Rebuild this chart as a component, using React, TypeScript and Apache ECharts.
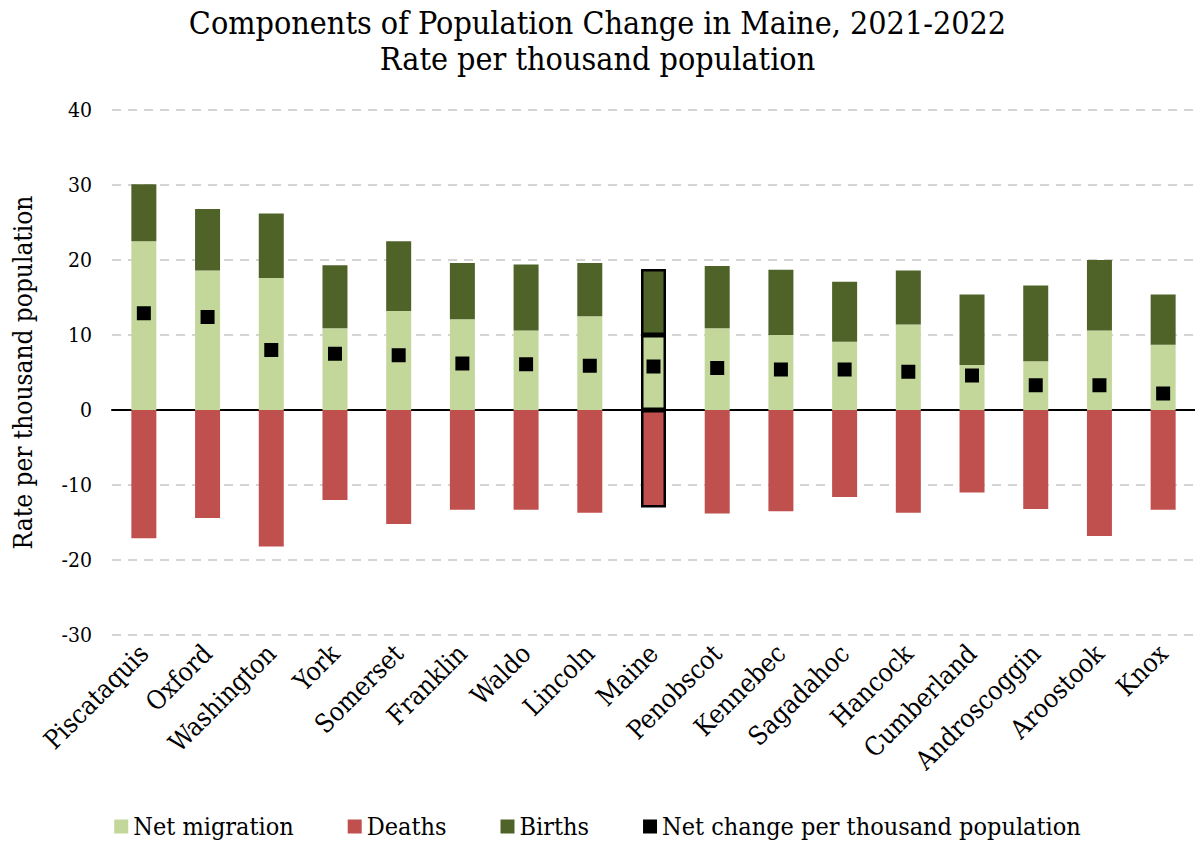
import React, { useEffect, useRef } from "react";
import * as echarts from "echarts";

const categories = [
  "Piscataquis", "Oxford", "Washington", "York", "Somerset", "Franklin", "Waldo", "Lincoln",
  "Maine", "Penobscot", "Kennebec", "Sagadahoc", "Hancock", "Cumberland", "Androscoggin", "Aroostook", "Knox",
];
const netMigration = [22.5, 18.6, 17.6, 10.9, 13.2, 12.1, 10.6, 12.5, 10.0, 10.9, 10.0, 9.1, 11.4, 6.0, 6.5, 10.6, 8.7];
const births = [7.6, 8.2, 8.6, 8.4, 9.3, 7.5, 8.8, 7.1, 8.8, 8.3, 8.7, 8.0, 7.2, 9.4, 10.1, 9.4, 6.7];
const deaths = [-17.1, -14.4, -18.2, -12.0, -15.2, -13.3, -13.3, -13.7, -13.0, -13.8, -13.5, -11.6, -13.7, -11.0, -13.2, -16.8, -13.3];
const netChange = [12.9, 12.4, 8.0, 7.5, 7.3, 6.2, 6.1, 5.9, 5.8, 5.6, 5.4, 5.4, 5.1, 4.6, 3.3, 3.3, 2.2];
const highlight = "Maine";

const FONT = "'DejaVu Serif Condensed', 'DejaVu Serif', serif";

function mark(values: number[], color: string) {
  return values.map((v, i) =>
    categories[i] === highlight
      ? { value: v, itemStyle: { color, borderColor: "#000", borderWidth: 2.5 } }
      : { value: v }
  );
}

export default function App() {
  const ref = useRef<HTMLDivElement>(null);
  useEffect(() => {
    document.body.style.margin = "0";
    const chart = echarts.init(ref.current!, null, { renderer: "svg" });
    chart.setOption({
      animation: false,
      backgroundColor: "#fff",
      textStyle: { fontFamily: FONT, color: "#000" },
      title: {
        text: "Components of Population Change in Maine, 2021-2022\nRate per thousand population",
        left: "center",
        top: 0,
        textStyle: { fontFamily: FONT, fontSize: 32, fontWeight: "normal", color: "#000", lineHeight: 36 },
      },
      legend: {
        bottom: 2,
        left: "center",
        itemWidth: 14,
        itemHeight: 14,
        itemGap: 54,
        icon: "rect",
        textStyle: { fontFamily: FONT, fontSize: 25, color: "#000" },
        data: ["Net migration", "Deaths", "Births", "Net change per thousand population"],
      },
      grid: { left: 112, right: 0, top: 110, bottom: 211, containLabel: false, outerBoundsMode: "none" },
      xAxis: {
        type: "category",
        data: categories,
        axisLine: { onZero: true, lineStyle: { color: "#000", width: 2 } },
        axisTick: { show: false },
        axisLabel: { rotate: 45, fontFamily: FONT, fontSize: 26, color: "#000", margin: 14, interval: 0 },
      },
      yAxis: {
        type: "value",
        min: -30,
        max: 40,
        interval: 10,
        name: "Rate per thousand population",
        nameLocation: "middle",
        nameGap: 76,
        nameTextStyle: { fontFamily: FONT, fontSize: 26, color: "#000" },
        axisLine: { show: false },
        axisTick: { show: false },
        axisLabel: { fontFamily: FONT, fontSize: 21, color: "#000", margin: 20 },
        splitLine: { lineStyle: { color: "#d4d4d4", width: 2, type: [9, 7] } },
      },
      series: [
        {
          name: "Net migration",
          type: "bar",
          stack: "a",
          barWidth: 25,
          itemStyle: { color: "#c4d79b" },
          data: mark(netMigration, "#c4d79b"),
        },
        {
          name: "Deaths",
          type: "bar",
          stack: "a",
          barWidth: 25,
          itemStyle: { color: "#c0504d" },
          data: mark(deaths, "#c0504d"),
        },
        {
          name: "Births",
          type: "bar",
          stack: "a",
          barWidth: 25,
          itemStyle: { color: "#4f6228" },
          data: mark(births, "#4f6228"),
        },
        {
          name: "Net change per thousand population",
          type: "scatter",
          symbol: "rect",
          symbolSize: 14,
          itemStyle: { color: "#000", opacity: 1 },
          z: 5,
          data: netChange,
        },
      ],
    });
    return () => chart.dispose();
  }, []);
  return <div ref={ref} style={{ width: 1195, height: 846 }} />;
}
